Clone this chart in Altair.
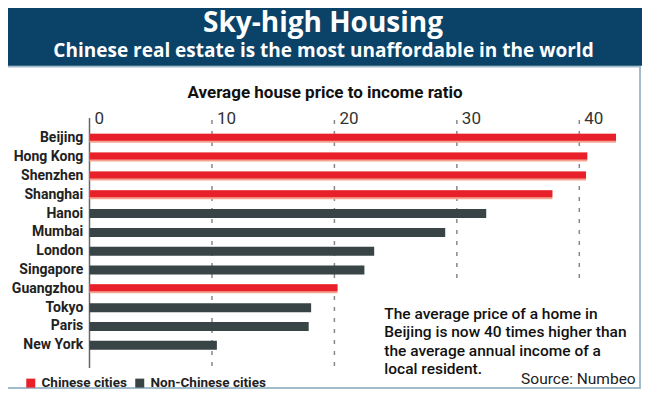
import altair as alt
import pandas as pd

# ---- data ----
CITIES = ["Beijing", "Hong Kong", "Shenzhen", "Shanghai", "Hanoi", "Mumbai",
          "London", "Singapore", "Guangzhou", "Tokyo", "Paris", "New York"]
RATIOS = [43.0, 40.65, 40.55, 37.8, 32.4, 29.05, 23.25, 22.45, 20.25, 18.1, 17.9, 10.4]
GROUPS = ["Chinese cities", "Chinese cities", "Chinese cities", "Chinese cities",
          "Non-Chinese cities", "Non-Chinese cities", "Non-Chinese cities",
          "Non-Chinese cities", "Chinese cities", "Non-Chinese cities",
          "Non-Chinese cities", "Non-Chinese cities"]
TICKS = [0, 10, 20, 30, 40]
TITLE = "Sky-high Housing"
SUBTITLE = "Chinese real estate is the most unaffordable in the world"
AXIS_TITLE = "Average house price to income ratio"
NOTE_LINES = ["The average price of a home in",
              "Beijing is now 40 times higher than",
              "the average annual income of a",
              "local resident."]
SOURCE = "Source: Numbeo"
LEGEND_DOMAIN = ["Chinese cities", "Non-Chinese cities"]

RED = "#e8202a"
GRAY = "#384446"
PINK = "#f5a391"
NAVY = "#0b4267"
FONT = "Roboto"
HEAD_FONT = "Open Sans"

W, H = 634, 381

df = pd.DataFrame({"city": CITIES, "ratio": RATIOS, "group": GROUPS})
ticks = pd.DataFrame({"t": TICKS})
one = pd.DataFrame({"k": [0]})

xs = alt.Scale(domain=[0, 40], range=[81.5, 571.3], nice=False, zero=True)
ys = alt.Scale(type="point", domain=CITIES, range=[130.3, 337.3], padding=0)
cs = alt.Scale(domain=LEGEND_DOMAIN, range=[RED, GRAY])

X = alt.X("ratio:Q", scale=xs, axis=None)
Y = alt.Y("city:N", scale=ys, axis=None, sort=CITIES)

base = alt.Chart(df)
deco = alt.Chart(one)

banner = deco.mark_rect(color=NAVY).encode(
    x=alt.value(0), x2=alt.value(W), y=alt.value(0), y2=alt.value(57.7))
frame = deco.mark_rect(fill="white", stroke="#a3bccb", strokeWidth=2).encode(
    x=alt.value(-2), x2=alt.value(632), y=alt.value(58.5), y2=alt.value(380))

title = deco.mark_text(text=TITLE, font=HEAD_FONT, fontSize=28, fontWeight="bold",
                       color="white", align="center", baseline="alphabetic").encode(
    x=alt.value(315), y=alt.value(23.5))
subtitle = deco.mark_text(text=SUBTITLE, font=HEAD_FONT, fontSize=19, fontWeight="bold",
                          color="white", align="center", baseline="alphabetic").encode(
    x=alt.value(315.5), y=alt.value(48.7))
axis_title = deco.mark_text(text=AXIS_TITLE, font=FONT, fontSize=17, fontWeight="bold",
                            color="#111", align="center", baseline="middle").encode(
    x=alt.value(317), y=alt.value(84.5))

zero_line = alt.Chart(ticks).transform_filter("datum.t == 0").mark_rule(
    color="#666", strokeWidth=1.5).encode(
    x=alt.X("t:Q", scale=xs, axis=None), y=alt.value(110), y2=alt.value(360))
grid_long = alt.Chart(ticks).transform_filter("datum.t > 0 && datum.t < 30").mark_rule(
    color="#888", strokeWidth=1.5, strokeDash=[4, 7]).encode(
    x=alt.X("t:Q", scale=xs, axis=None), y=alt.value(112), y2=alt.value(360))
grid_short = alt.Chart(ticks).transform_filter("datum.t >= 30").mark_rule(
    color="#888", strokeWidth=1.5, strokeDash=[4, 7]).encode(
    x=alt.X("t:Q", scale=xs, axis=None), y=alt.value(112), y2=alt.value(274))
tick_labels = alt.Chart(ticks).mark_text(font=FONT, fontSize=17, color="#333",
                                         align="left", baseline="middle", dx=5).encode(
    x=alt.X("t:Q", scale=xs, axis=None), y=alt.value(111), text="t:Q")

shadow = base.transform_filter(alt.datum.group == "Chinese cities").mark_bar(
    size=9, color=PINK).encode(x=X, y=Y)
red_bars = base.transform_filter(alt.datum.group == "Chinese cities").mark_bar(
    size=7, yOffset=-1).encode(
    x=X, y=Y,
    color=alt.Color("group:N", scale=cs, legend=alt.Legend(
        title=None, orient="none", legendX=16, legendY=368, direction="horizontal",
        symbolType="square", symbolSize=81, symbolStrokeWidth=0, symbolOpacity=1,
        labelFont=FONT, labelFontSize=13.5, labelFontWeight="bold", labelColor="#222",
        labelOffset=4, columnPadding=6, padding=0)))
gray_bars = base.transform_filter(alt.datum.group == "Non-Chinese cities").mark_bar(
    size=9).encode(x=X, y=Y, color=alt.Color("group:N", scale=cs))

city_labels = base.mark_text(font=FONT, fontSize=14, fontWeight="bold", color="#222",
                             align="right", baseline="middle").encode(
    x=alt.value(75.3), y=Y, text="city:N")

note = deco.mark_text(text=NOTE_LINES, font=FONT, fontSize=15.5, fontWeight=500,
                      color="#111", align="left", baseline="alphabetic",
                      lineHeight=18.3).encode(x=alt.value(376.3), y=alt.value(311))
source = deco.mark_text(text=SOURCE, font=FONT, fontSize=15.5, color="#222",
                        align="right", baseline="alphabetic").encode(
    x=alt.value(627.7), y=alt.value(376))

chart = alt.layer(frame, banner, title, subtitle, axis_title, zero_line, grid_long, grid_short,
                  tick_labels, shadow, red_bars, gray_bars, city_labels, note, source).properties(
    width=W, height=H, padding=0, autosize=alt.AutoSizeParams(type="none")
).configure_view(stroke=None)

chart.save("out.html", embed_options={"renderer": "svg", "actions": False})
